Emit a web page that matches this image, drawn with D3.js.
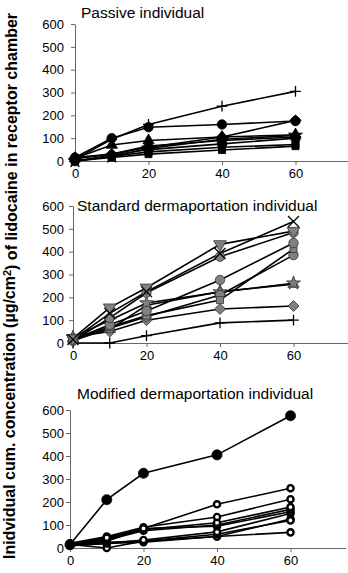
<!DOCTYPE html>
<html>
<head>
<meta charset="utf-8">
<script src="https://cdn.jsdelivr.net/npm/d3@7"></script>
<style>
  body { margin: 0; background: #fff; }
  svg { display: block; font-family: "Liberation Sans", Arial, sans-serif; }
</style>
</head>
<body>
<svg id="chart" width="348" height="573"></svg>
<script>
// sampling times (min)
const times = [0, 10, 20, 40, 60];
const xTicks = [0, 20, 40, 60];
const yTicks = [0, 100, 200, 300, 400, 500, 600];

const panelTitles = ["Passive individual", "Standard dermaportation individual", "Modified dermaportation individual"];

// Passive individual
const passivePlus = [8, 95, 160, 240, 305];
const passiveCircle = [15, 100, 148, 160, 175];
const passiveDiamond = [10, 30, 60, 105, 178];
const passiveTriangle = [12, 70, 90, 105, 115];
const passiveStar = [0, 20, 55, 95, 112];
const passiveDiamond2 = [15, 30, 65, 90, 105];
const passiveCross = [0, 25, 50, 75, 100];
const passiveSquare = [0, 20, 40, 60, 72];
const passiveSquare2 = [0, 15, 30, 48, 65];

// Standard dermaportation individual
const standardX = [15, 130, 225, 392, 532];
const standardInvTri = [20, 155, 242, 432, 490];
const standardCircleA = [10, 110, 220, 378, 484];
const standardCircleB = [15, 80, 140, 276, 438];
const standardSquare = [20, 70, 120, 188, 412];
const standardCircleC = [10, 65, 115, 210, 385];
const standardStar = [25, 100, 175, 223, 262];
const standardTriangle = [20, 60, 165, 225, 258];
const standardDiamond = [25, 50, 100, 149, 162];
const standardPlus = [0, 0, 32, 88, 100];

// Modified dermaportation individual
const modifiedFilled = [15, 210, 325, 405, 575];
const modified1 = [15, 45, 85, 190, 260];
const modified2 = [20, 50, 90, 135, 212];
const modified3 = [15, 40, 80, 110, 178];
const modified4 = [10, 35, 75, 100, 168];
const modified5 = [15, 30, 85, 95, 158];
const modified6 = [10, 20, 35, 70, 150];
const modified7 = [15, 0, 30, 60, 120];
const modified8 = [10, 20, 25, 50, 126];
const modified9 = [15, 25, 30, 50, 68];

const svg = d3.select("#chart");

const panels = [
  {
    title: panelTitles[0], titleX: 81, titleY: 18,
    top: 24, bottom: 161, x0: 75,
    series: [
      { v: passivePlus, m: "plus" },
      { v: passiveCircle, m: "circle" },
      { v: passiveDiamond, m: "diamond" },
      { v: passiveTriangle, m: "triangle" },
      { v: passiveStar, m: "star" },
      { v: passiveDiamond2, m: "diamond" },
      { v: passiveCross, m: "cross" },
      { v: passiveSquare, m: "square" },
      { v: passiveSquare2, m: "square" }
    ],
    fill: "#000", stroke: "#000"
  },
  {
    title: panelTitles[1], titleX: 77, titleY: 211,
    top: 206, bottom: 343, x0: 73,
    series: [
      { v: standardPlus, m: "plus" },
      { v: standardDiamond, m: "diamond" },
      { v: standardTriangle, m: "triangle" },
      { v: standardStar, m: "star" },
      { v: standardCircleC, m: "circle" },
      { v: standardSquare, m: "square" },
      { v: standardCircleB, m: "circle" },
      { v: standardCircleA, m: "circle" },
      { v: standardInvTri, m: "invtri" },
      { v: standardX, m: "times" }
    ],
    fill: "#808080", stroke: "#333"
  },
  {
    title: panelTitles[2], titleX: 77, titleY: 399,
    top: 410, bottom: 548, x0: 70,
    series: [
      { v: modified9, m: "open" },
      { v: modified8, m: "open" },
      { v: modified7, m: "open" },
      { v: modified6, m: "open" },
      { v: modified5, m: "open" },
      { v: modified4, m: "open" },
      { v: modified3, m: "open" },
      { v: modified2, m: "open" },
      { v: modified1, m: "open" },
      { v: modifiedFilled, m: "filled" }
    ],
    fill: "#fff", stroke: "#000"
  }
];

const symbolFor = {
  circle: d3.symbol(d3.symbolCircle, 70),
  filled: d3.symbol(d3.symbolCircle, 80),
  open: d3.symbol(d3.symbolCircle, 30),
  square: d3.symbol(d3.symbolSquare, 50),
  diamond: d3.symbol(d3.symbolSquare, 60),   // rotated 45deg below
  triangle: d3.symbol(d3.symbolTriangle, 55),
  invtri: d3.symbol(d3.symbolTriangle, 70),
  star: d3.symbol(d3.symbolStar, 60),
  cross: d3.symbol(d3.symbolCross, 50),
  plus: d3.symbol(d3.symbolPlus, 40),
  times: d3.symbol(d3.symbolTimes, 80)
};
const rotation = { invtri: 180, diamond: 45 };

panels.forEach(p => {
  const x = d3.scaleLinear().domain([0, 75]).range([p.x0, p.x0 + 75 * 3.675]);
  const y = d3.scaleLinear().domain([0, 600]).range([p.bottom, p.top]);
  const g = svg.append("g");

  // y axis
  const yAxis = d3.axisLeft(y).tickValues(yTicks).tickSize(4).tickSizeOuter(0).tickPadding(p.x0 - 68);
  const ya = g.append("g").attr("transform", `translate(${p.x0},0)`).call(yAxis);
  ya.selectAll("text").style("font-size", "13px").style("fill", "#000");
  ya.selectAll("line, path").style("stroke", "#666");

  // x axis
  const xAxis = d3.axisBottom(x).tickValues(xTicks).tickSize(4).tickSizeOuter(0).tickPadding(4);
  const xa = g.append("g").attr("transform", `translate(0,${p.bottom})`).call(xAxis);
  xa.selectAll("text").style("font-size", "13px").style("fill", "#000");
  xa.selectAll("line, path").style("stroke", "#666");

  g.append("text")
    .attr("x", p.titleX).attr("y", p.titleY)
    .style("font-size", "15.5px").style("fill", "#000")
    .text(p.title);

  const line = d3.line().x((d, i) => x(times[i])).y(d => y(d));

  p.series.forEach(s => {
    g.append("path")
      .attr("d", line(s.v))
      .attr("fill", "none")
      .attr("stroke", "#000")
      .attr("stroke-width", 1.6);
  });

  p.series.forEach(s => {
    const isStroke = s.m === "plus" || s.m === "times";
    const rot = rotation[s.m] ? ` rotate(${rotation[s.m]})` : "";
    g.selectAll(null)
      .data(s.v)
      .enter()
      .append("path")
      .attr("d", symbolFor[s.m])
      .attr("transform", (d, i) => `translate(${x(times[i])},${y(d)})` + rot)
      .attr("fill", isStroke ? "none" : (s.m === "filled" ? "#000" : p.fill))
      .attr("stroke", isStroke ? "#000" : (s.m === "open" || s.m === "filled" ? "#000" : p.stroke))
      .attr("stroke-width", s.m === "open" ? 2.4 : (isStroke ? 1.3 : 0.8));
  });
});

// shared y label
const yl = svg.append("text")
  .attr("transform", "translate(15,286) rotate(-90)")
  .attr("text-anchor", "middle")
  .style("font-size", "16px")
  .style("font-weight", "bold")
  .style("fill", "#000");
yl.append("tspan").text("Inidvidual cum. concentration (\u00b5g/cm");
yl.append("tspan").attr("dy", "-0.4em").style("font-size", "11px").text("2");
yl.append("tspan").attr("dy", "0.4em").text(") of lidocaine in receptor chamber");
</script>
</body>
</html>
